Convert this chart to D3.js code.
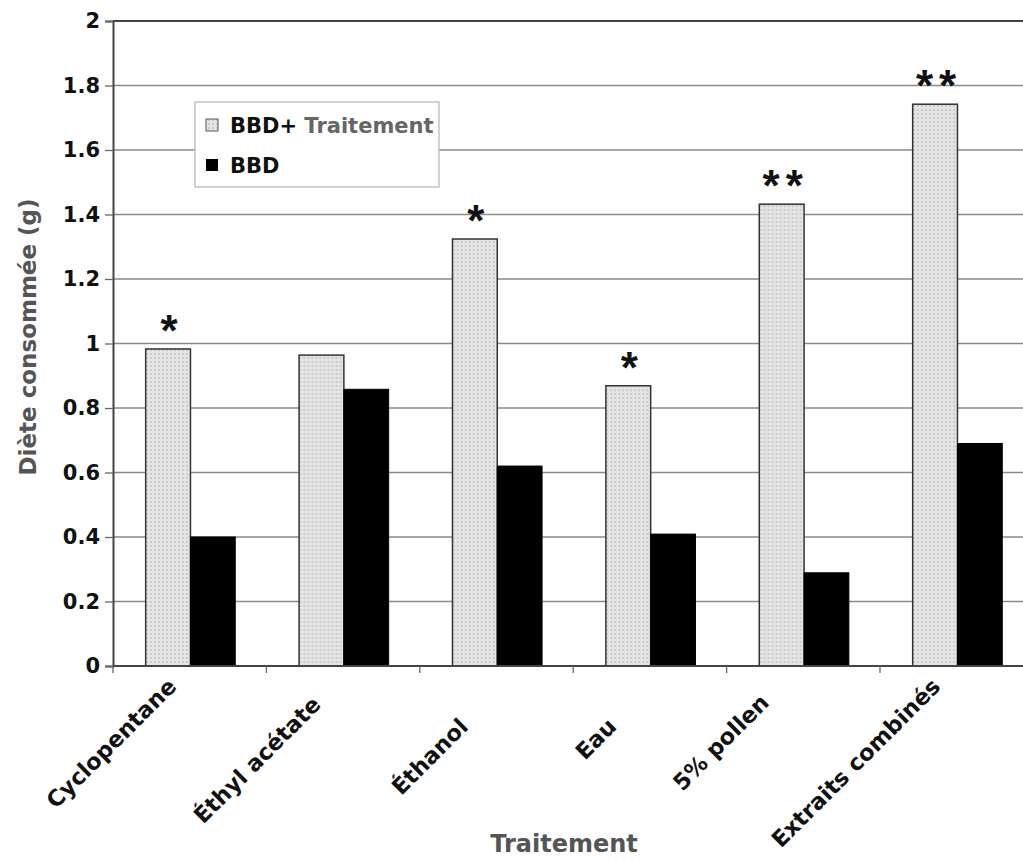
<!DOCTYPE html>
<html>
<head>
<meta charset="utf-8">
<script src="https://cdn.jsdelivr.net/npm/d3@7"></script>
<style>
  body { margin: 0; background: #fff; }
  svg { display: block; }
</style>
</head>
<body>
<div id="chart"></div>
<script>
// data
var categories = ['Cyclopentane', 'Éthyl acétate', 'Éthanol', 'Eau', '5% pollen', 'Extraits combinés'];
var seriesNames = ['BBD+ Traitement', 'BBD'];
var bbdTraitement = [0.983, 0.964, 1.324, 0.869, 1.432, 1.742];
var bbd = [0.40, 0.858, 0.62, 0.409, 0.289, 0.69];
var significance = ['*', '', '*', '*', '**', '**'];
var yTicks = [0, 0.2, 0.4, 0.6, 0.8, 1, 1.2, 1.4, 1.6, 1.8, 2];

// hand placed category labels (they were pasted on in the original)
var labelNudge = [[-12, 22], [-21, 40], [-27, 62], [-32, 62], [-33, 38], [-15, 22]];

var width = 1023, height = 861;
var plotLeft = 113, plotTop = 21, plotBottom = 666;
var bandW = 153.4;

var svg = d3.select("#chart").append("svg")
  .attr("width", width)
  .attr("height", height);

var defs = svg.append("defs");
var pat = defs.append("pattern")
  .attr("id", "dots")
  .attr("width", 4)
  .attr("height", 4)
  .attr("patternUnits", "userSpaceOnUse");
pat.append("rect").attr("width", 4).attr("height", 4).attr("fill", "#e4e4e4");
pat.append("circle").attr("cx", 2).attr("cy", 2).attr("r", 1).attr("fill", "#c4c4c4");

var x = d3.scaleBand()
  .domain(categories)
  .range([plotLeft, plotLeft + bandW * categories.length])
  .paddingInner(0)
  .paddingOuter(0);

var xSub = d3.scaleBand()
  .domain(seriesNames)
  .range([bandW * 0.213, bandW * 0.797]);

var y = d3.scaleLinear()
  .domain([0, 2])
  .range([plotBottom, plotTop]);

// gridlines
svg.append("g")
  .selectAll("line")
  .data(yTicks.filter(d => d > 0 && d < 2))
  .enter().append("line")
  .attr("x1", plotLeft)
  .attr("x2", width)
  .attr("y1", d => y(d))
  .attr("y2", d => y(d))
  .style("stroke", "#8a8a8a")
  .style("stroke-width", "1.3px");

// top border of plot area
svg.append("line")
  .attr("x1", plotLeft).attr("x2", width)
  .attr("y1", y(2)).attr("y2", y(2))
  .style("stroke", "#444").style("stroke-width", "2px");

// y axis
var yAxis = d3.axisLeft(y)
  .tickValues(yTicks)
  .tickSize(8)
  .tickPadding(5)
  .tickFormat(d => String(d));

var gy = svg.append("g")
  .attr("transform", "translate(" + plotLeft + ",0)")
  .call(yAxis);
gy.select(".domain").style("stroke", "#444").style("stroke-width", "2px");
gy.selectAll(".tick line").style("stroke", "#666").style("stroke-width", "1.3px");
gy.selectAll(".tick text")
  .attr("font-family", "DejaVu Sans")
  .attr("font-weight", "bold")
  .attr("font-size", "21px")
  .attr("fill", "#111");

// bars
var groups = svg.append("g")
  .selectAll("g")
  .data(categories)
  .enter().append("g")
  .attr("transform", d => "translate(" + x(d) + ",0)");

groups.append("rect")
  .attr("x", xSub('BBD+ Traitement'))
  .attr("width", xSub.bandwidth())
  .attr("y", (d, i) => y(bbdTraitement[i]))
  .attr("height", (d, i) => plotBottom - y(bbdTraitement[i]))
  .style("fill", "url(#dots)")
  .style("stroke", "#333")
  .style("stroke-width", "1.5px");

groups.append("rect")
  .attr("x", xSub('BBD'))
  .attr("width", xSub.bandwidth())
  .attr("y", (d, i) => y(bbd[i]))
  .attr("height", (d, i) => plotBottom - y(bbd[i]))
  .style("fill", "#000")
  .style("stroke", "#000")
  .style("stroke-width", "1px");

// significance stars
groups.append("text")
  .attr("x", xSub('BBD+ Traitement') + xSub.bandwidth() / 2 + 4)
  .attr("y", (d, i) => y(bbdTraitement[i]) - 3)
  .attr("text-anchor", "middle")
  .attr("font-family", "Liberation Sans")
  .attr("font-weight", "bold")
  .attr("font-size", "44px")
  .attr("letter-spacing", "6px")
  .attr("fill", "#111")
  .text((d, i) => significance[i]);

// x axis
var gx = svg.append("g")
  .attr("transform", "translate(0," + plotBottom + ")");
gx.append("line")
  .attr("x1", plotLeft).attr("x2", width)
  .style("stroke", "#444").style("stroke-width", "2px");
gx.selectAll(".tk")
  .data(categories)
  .enter().append("line")
  .attr("class", "tk")
  .attr("x1", d => x(d)).attr("x2", d => x(d))
  .attr("y1", 0).attr("y2", 7)
  .style("stroke", "#666").style("stroke-width", "1.3px");

gx.selectAll(".lbl")
  .data(categories)
  .enter().append("text")
  .attr("class", "lbl")
  .attr("text-anchor", "end")
  .attr("transform", (d, i) => "translate(" + (x(d) + x.bandwidth() / 2 + labelNudge[i][0]) + "," + labelNudge[i][1] + ") rotate(-45)")
  .attr("font-family", "DejaVu Sans")
  .attr("font-weight", "bold")
  .attr("font-size", "22.5px")
  .attr("fill", "#111")
  .text(d => d);

// axis titles
svg.append("text")
  .attr("transform", "translate(36,337) rotate(-90)")
  .attr("text-anchor", "middle")
  .attr("font-family", "DejaVu Sans")
  .attr("font-weight", "bold")
  .attr("font-size", "23px")
  .attr("fill", "#555")
  .text("Diète consommée (g)");

svg.append("text")
  .attr("x", 564)
  .attr("y", 852)
  .attr("text-anchor", "middle")
  .attr("font-family", "DejaVu Sans")
  .attr("font-weight", "bold")
  .attr("font-size", "24px")
  .attr("fill", "#555")
  .text("Traitement");

// legend
var legend = svg.append("g").attr("transform", "translate(195,102)");
legend.append("rect")
  .attr("width", 244).attr("height", 85)
  .style("fill", "#fff").style("stroke", "#bbb").style("stroke-width", "1.3px");

legend.append("rect")
  .attr("x", 11).attr("y", 17).attr("width", 12).attr("height", 12)
  .style("fill", "url(#dots)").style("stroke", "#555");
var t1 = legend.append("text")
  .attr("x", 35).attr("y", 31)
  .attr("font-family", "DejaVu Sans")
  .attr("font-weight", "bold")
  .attr("font-size", "21px");
t1.append("tspan").attr("fill", "#111").text("BBD+ ");
t1.append("tspan").attr("fill", "#666").text("Traitement");

legend.append("rect")
  .attr("x", 11).attr("y", 57).attr("width", 12).attr("height", 12)
  .style("fill", "#000");
legend.append("text")
  .attr("x", 35).attr("y", 71)
  .attr("font-family", "DejaVu Sans")
  .attr("font-weight", "bold")
  .attr("font-size", "21px")
  .attr("fill", "#111")
  .text("BBD");
</script>
</body>
</html>
